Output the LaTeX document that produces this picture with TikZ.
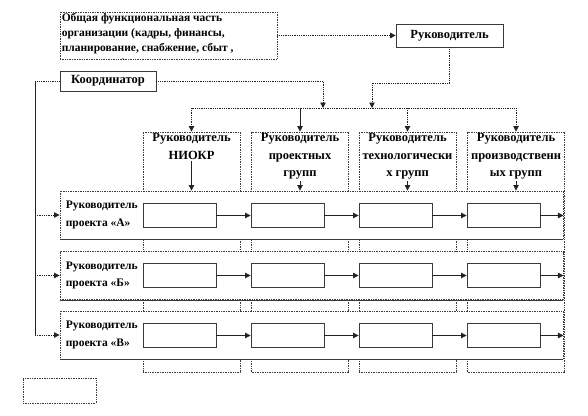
\documentclass[tikz,border=0pt]{standalone}
\usepackage{fontspec}
\setmainfont{Liberation Serif}
\usetikzlibrary{positioning,arrows.meta}
\definecolor{cLine}{HTML}{222222}
\definecolor{cBox}{HTML}{3A3A3A}
\tikzset{
  base/.style={draw=cBox, line width=0.7pt, inner sep=2pt,
               font=\bfseries\fontsize{12.5}{17}\selectfont},
  dotbox/.style={base, densely dotted, line width=0.9pt},
  rowbox/.style={dotbox, fill=white, minimum width=503pt, minimum height=48pt},
  mgrbox/.style={dotbox, minimum width=97pt, minimum height=240pt},
  cell/.style={draw=cBox, line width=0.9pt, fill=white,
               minimum width=73pt, minimum height=24pt},
  txt/.style={font=\bfseries\fontsize{12.5}{17.5}\selectfont, align=center, inner sep=1pt},
  rowtxt/.style={txt, align=left, anchor=west, font=\bfseries\fontsize{11.5}{17.5}\selectfont},
  ar/.style={-{Triangle[length=5.5pt,width=5.5pt]}, line width=0.8pt, cLine},
  dar/.style={ar, densely dotted},
  dl/.style={line width=0.8pt, densely dotted, cLine},
}

\begin{document}
\begin{tikzpicture}[x=1pt, y=-1pt]
  \useasboundingbox (0,0) rectangle (588,415);
  % manager columns (behind the project rows)
  \node[mgrbox] (m1) at (191.5,252) {};
  \node[mgrbox] (m2) at (300,252) {};
  \node[mgrbox] (m3) at (407.5,252) {};
  \node[mgrbox] (m4) at (516,252) {};
  \node[txt, below=1pt of m1.north] (t1) {Руководитель\\НИОКР};
  \node[txt, below=1pt of m2.north] (t2) {Руководитель\\проектных\\групп};
  \node[txt, below=1pt of m3.north] (t3) {Руководитель\\технологически\\х групп};
  \node[txt, below=1pt of m4.north] (t4) {Руководитель\\производственн\\ых групп};

  % project rows
  \node[rowbox] (rA) at (311.5,215) {};
  \node[rowbox] (rB) at (311.5,275.5) {};
  \node[rowbox] (rC) at (311.5,335) {};
  \foreach \R in {rA,rB,rC}
    \draw[cBox, line width=0.9pt] (\R.south west) -- (\R.south east);
  \node[rowtxt] (lA) at ([xshift=5pt]rA.west) {Руководитель\\проекта «А»};
  \node[rowtxt] (lB) at ([xshift=5pt]rB.west) {Руководитель\\проекта «Б»};
  \node[rowtxt] (lC) at ([xshift=5pt]rC.west) {Руководитель\\проекта «В»};

  \foreach \r/\y in {a/215.5, b/275.5, c/335.5}
    \foreach \i/\x in {1/179.5, 2/287.5, 3/395.5, 4/503.5}
      \node[cell] (\r\i) at (\x,\y) {};
  \foreach \r/\R in {a/rA, b/rB, c/rC} {
    \draw[ar] (\r1) -- (\r2);
    \draw[ar] (\r2) -- (\r3);
    \draw[ar] (\r3) -- (\r4);
    \draw[ar] (\r4) -- (\r4 -| \R.east);
  }
  \foreach \i in {1,...,4}
    \draw[ar] (t\i.south) -- (t\i.south |- rA.north);

  % top part
  \node[dotbox, minimum width=217pt, minimum height=47pt] (func) at (168.5,35.5) {};
  \begin{scope}
    \clip (func.south west) rectangle (func.north east);
    \node[txt, align=left, anchor=north west, font=\bfseries\fontsize{11.5}{15}\selectfont]
      (ftxt) at ([xshift=1pt,yshift=-1pt]func.north west)
      {Общая функциональная часть\\организации (кадры, финансы,\\планирование, снабжение, сбыт ,\\управление)};
  \end{scope}
  \node[base, minimum width=107pt, minimum height=23pt] (boss) at (449.5,35.5) {Руководитель};
  \node[base, minimum width=96pt, minimum height=20pt] (koord) at (108,81) {Координатор};

  \draw[dar] (func.east) -- (boss.west);
  \coordinate (j1) at (372,108);
  \coordinate (j2) at (323,108);
  \draw[dar] (boss.south) -- ++(0,36) -| (j1);
  \draw[dar] (koord.east) -| (j2);

  % bus to the managers
  \coordinate (bL) at (191.5,108);
  \coordinate (bR) at (516,108);
  \draw[dl] (bL) -- (bR);
  \draw[dar] (bL) -- (m1.north);
  \draw[ar] (m2.north |- bL) -- (m2.north);
  \draw[dar] (m3.north |- bL) -- (m3.north);
  \draw[dar] (bR) -- (m4.north);

  % coordinator to the projects
  \coordinate (kL) at (35,81);
  \draw[dl] (koord.west) -- (kL);
  \draw[cLine, line width=0.8pt] (kL) -- (kL |- rC.west);
  \foreach \R in {rA,rB,rC}
    \draw[dar] (kL |- \R.west) -- (\R.west);

  \node[dotbox, minimum width=73pt, minimum height=25pt] (leg) at (59.5,390.5) {};
\end{tikzpicture}
\end{document}
